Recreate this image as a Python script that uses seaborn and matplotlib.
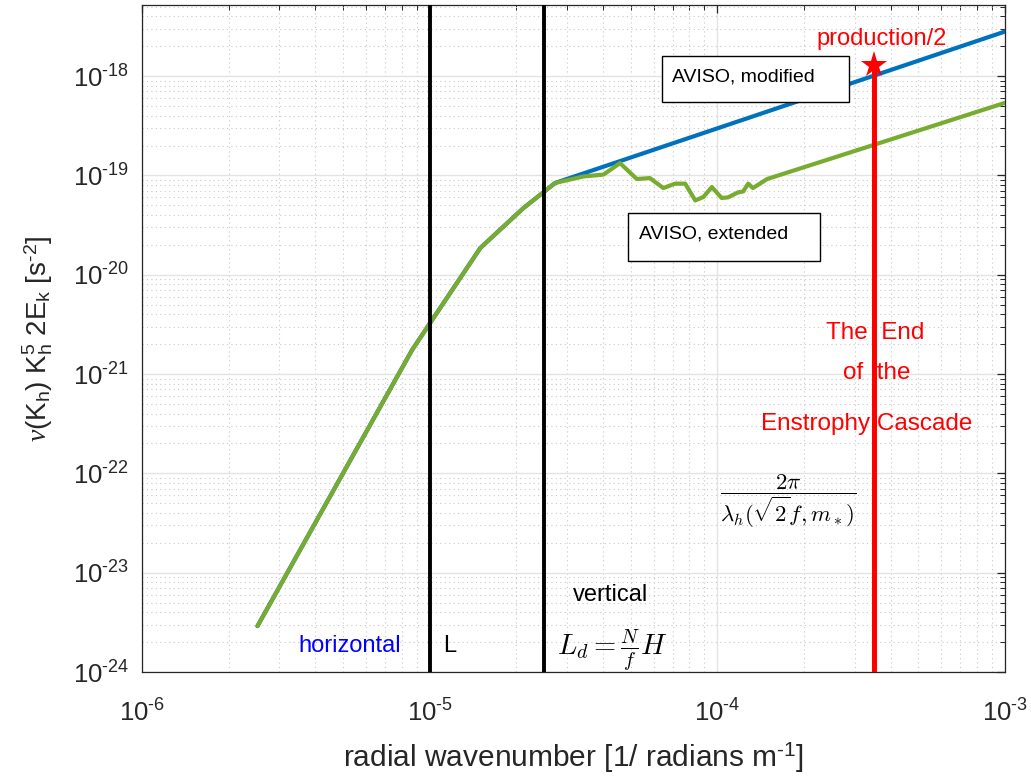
import numpy as np
import pandas as pd
import matplotlib
matplotlib.use("Agg")
import matplotlib.pyplot as plt
import seaborn as sns
from matplotlib.ticker import FixedLocator, LogLocator, FuncFormatter, NullFormatter
from matplotlib.patches import Rectangle

# ---------------- data ----------------
k_common = [2.52e-6, 8.7e-6, 1.5e-5, 2.12e-5, 2.73e-5]
E_common = [2.9e-24, 1.76e-21, 1.86e-20, 4.7e-20, 8.4e-20]

k_modified_tail = [1.0e-3]
E_modified_tail = [2.81e-18]

k_extended_tail = [3.43e-5, 4.02e-5, 4.59e-5, 5.25e-5, 5.83e-5, 6.49e-5, 7.13e-5,
                   7.73e-5, 8.38e-5, 8.95e-5, 9.57e-5, 1.035e-4, 1.09e-4, 1.18e-4,
                   1.23e-4, 1.28e-4, 1.33e-4, 1.49e-4, 1.0e-3]
E_extended_tail = [9.77e-20, 1.02e-19, 1.33e-19, 9.2e-20, 9.4e-20, 7.46e-20, 8.26e-20,
                   8.26e-20, 5.6e-20, 6.07e-20, 7.64e-20, 5.93e-20, 6.01e-20, 6.75e-20,
                   6.9e-20, 8.26e-20, 7.46e-20, 9.2e-20, 5.38e-19]

k_L = 1.0e-5
k_Ld = 2.5e-5
k_end = 3.5e-4
E_production_half = 1.3e-18

xlim = (1e-6, 1e-3)
ylim = (1e-24, 5.2e-18)
x_ticks = [1e-6, 1e-5, 1e-4, 1e-3]
y_ticks = [1e-24, 1e-23, 1e-22, 1e-21, 1e-20, 1e-19, 1e-18]

# ---------------- style ----------------
sns.set_theme(style="white")
plt.rcParams["font.family"] = ["Liberation Sans", "DejaVu Sans"]
plt.rcParams["mathtext.fontset"] = "custom"
plt.rcParams["mathtext.rm"] = "Liberation Sans"
plt.rcParams["mathtext.it"] = "Liberation Serif:italic"
plt.rcParams["mathtext.bf"] = "Liberation Sans:bold"

BLUE = "#0072BD"
GREEN = "#77AC30"
RED = "#FF0000"
AX = "#262626"
HY = "\u2010"  # short hyphen as in the reference exponents

W, H = 1031, 780
fig = plt.figure(figsize=(W / 100, H / 100), dpi=100)
ax = fig.add_axes([142 / W, 1 - 672 / H, (1005 - 142) / W, (672 - 5) / H])

df_mod = pd.DataFrame({"k": k_common + k_modified_tail, "E": E_common + E_modified_tail})
df_ext = pd.DataFrame({"k": k_common + k_extended_tail, "E": E_common + E_extended_tail})

ax.set_xscale("log")
ax.set_yscale("log")

sns.lineplot(data=df_mod, x="k", y="E", ax=ax, color=BLUE, lw=3.0, sort=False,
             estimator=None, zorder=4)
sns.lineplot(data=df_ext, x="k", y="E", ax=ax, color=GREEN, lw=3.0, sort=False,
             estimator=None, zorder=5)

ax.axvline(k_L, color="black", lw=2.8, zorder=6)
ax.axvline(k_Ld, color="black", lw=2.8, zorder=6)
sns.lineplot(x=[k_end, k_end], y=[ylim[0], E_production_half], ax=ax, color=RED,
             lw=3.6, sort=False, estimator=None, zorder=7)
ax.plot([k_end], [E_production_half], marker="*", color=RED, markersize=20,
        markeredgewidth=0, zorder=8, clip_on=False)

ax.set_xlim(*xlim)
ax.set_ylim(*ylim)

# ticks & grid
ax.xaxis.set_major_locator(FixedLocator(x_ticks))
ax.yaxis.set_major_locator(FixedLocator(y_ticks))
ax.xaxis.set_minor_locator(LogLocator(base=10, subs=np.arange(2, 10), numticks=50))
ax.yaxis.set_minor_locator(LogLocator(base=10, subs=np.arange(2, 10), numticks=50))
fmt = FuncFormatter(lambda v, p: "$\\mathregular{10^{" + HY + "%d}}$" % abs(int(round(np.log10(v)))))
ax.xaxis.set_major_formatter(fmt)
ax.yaxis.set_major_formatter(fmt)
ax.xaxis.set_minor_formatter(NullFormatter())
ax.yaxis.set_minor_formatter(NullFormatter())
ax.tick_params(which="both", direction="in", top=True, right=True, color=AX,
               labelcolor=AX, labelsize=18.5)
ax.tick_params(which="major", length=6, width=0.9)
ax.tick_params(which="minor", length=3.5, width=0.7)
ax.tick_params(axis="x", which="major", pad=20)
ax.tick_params(axis="y", which="major", pad=9)
for s in ax.spines.values():
    s.set_color(AX)
    s.set_linewidth(0.9)

ax.grid(which="major", color="#e3e3e3", lw=1.0, ls="-", zorder=0)
ax.grid(which="minor", color="#c8c8c8", lw=0.8, ls=(0, (1, 3)), zorder=0)
ax.set_axisbelow(True)

ax.set_xlabel("radial wavenumber [1/ radians m$^{\\mathregular{" + HY + "1}}$]",
              fontsize=21.5, color=AX, labelpad=10)
ax.set_ylabel("$\\nu$(K$_{\\mathrm{h}}$) K$_{\\mathrm{h}}^{\\mathrm{5}}$ 2E$_{\\mathrm{k}}$ [s$^{\\mathrm{" + HY + "2}}$]",
              fontsize=20, color=AX)
ax.yaxis.set_label_coords(-0.101, 0.5)

# ---------------- annotations ----------------
ax.text(3.5e-6, 1.58e-24, "horizontal", color="#0000FF", fontsize=17,
        ha="left", va="baseline")
ax.text(1.116e-5, 1.58e-24, "L", color="black", fontsize=17, ha="left", va="baseline")
ax.text(3.16e-5, 5.18e-24, "vertical", color="black", fontsize=17, ha="left", va="baseline")
ax.text(2.77e-5, 1.51e-24, r"$L_d = \frac{N}{f}H$", color="black", fontsize=20.5,
        ha="left", va="baseline", math_fontfamily="cm")
ax.text(1.76e-4, 5.27e-23, r"$\dfrac{2\pi}{\lambda_h(\sqrt{2}f,m_*)}$", color="black",
        fontsize=16.5, ha="center", va="center", math_fontfamily="cm")

ax.text(3.73e-4, 2.07e-18, "production/2", color=RED, fontsize=17, ha="center", va="baseline")
ax.text(3.53e-4, 2.26e-21, "The  End", color=RED, fontsize=17.5, ha="center", va="baseline")
ax.text(3.57e-4, 9.0e-22, "of  the", color=RED, fontsize=17.5, ha="center", va="baseline")
ax.text(3.31e-4, 2.72e-22, "Enstrophy Cascade", color=RED, fontsize=17.5, ha="center",
        va="baseline")

# text boxes
def fig_rect(x0, y0, x1, y1):
    return Rectangle((x0 / W, 1 - y1 / H), (x1 - x0) / W, (y1 - y0) / H,
                     transform=fig.transFigure, fill=True, facecolor="white",
                     edgecolor="black", lw=1.0, zorder=9)

r1 = fig_rect(662, 56, 849, 102)
r2 = fig_rect(628, 213, 820, 261)
ax.add_patch(r1)
ax.add_patch(r2)
r1.set_zorder(9)
r2.set_zorder(9)
ax.text(6.97e-5, 8.77e-19, "AVISO, modified", color="black", fontsize=14,
        ha="left", va="baseline", zorder=10)
ax.text(5.35e-5, 2.34e-20, "AVISO, extended", color="black", fontsize=14,
        ha="left", va="baseline", zorder=10)

fig.savefig("out.png", dpi=100)
